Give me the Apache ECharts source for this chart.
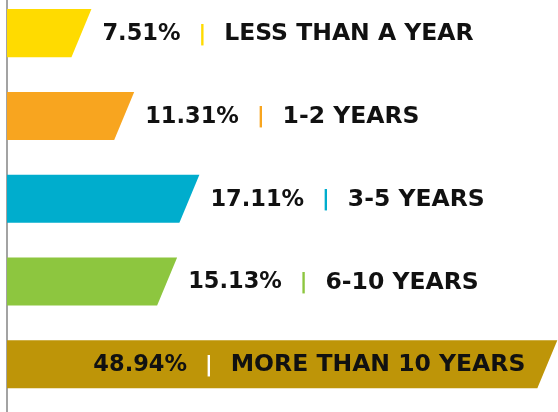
<!DOCTYPE html>
<html>
<head>
<meta charset="utf-8">
<script src="https://cdn.jsdelivr.net/npm/echarts@6/dist/echarts.min.js"></script>
<style>
  html, body { margin: 0; padding: 0; background: #fff; }
  #chart { width: 558px; height: 412px; }
</style>
</head>
<body>
<div id="chart"></div>
<script>
  var categories = ['LESS THAN A YEAR', '1-2 YEARS', '3-5 YEARS', '6-10 YEARS', 'MORE THAN 10 YEARS'];
  var values = [7.51, 11.31, 17.11, 15.13, 48.94];
  var palette = ['#ffdb00', '#f8a51f', '#00adcd', '#8dc63f', '#be9508'];

  var FONT = '"DejaVu Sans", sans-serif';
  var SLANT = 20;

  function renderItem(params, api) {
    var idx = api.value(0);
    var val = api.value(1);
    var start = api.coord([0, idx]);
    var end = api.coord([val, idx]);
    var h = api.size([0, 1])[1] * 0.58;
    var top = end[1] - h / 2;
    var bot = end[1] + h / 2;
    var color = palette[idx];
    var inside = val > 40;

    var text = '{p|' + val.toFixed(2) + '%}{s||}{n|' + categories[idx] + '}';
    var rich = {
      p: { fill: '#111', fontSize: 22.5, fontWeight: 'bold', fontFamily: FONT, lineHeight: 24 },
      s: { fill: inside ? '#ffffff' : color, fontSize: 21, fontWeight: 'bold', fontFamily: FONT,
           lineHeight: 24, padding: [0, 18, 0, 18] },
      n: { fill: '#111', fontSize: 23.5, fontWeight: 'bold', fontFamily: FONT, lineHeight: 24 }
    };

    return {
      type: 'group',
      children: [
        {
          type: 'polygon',
          shape: { points: [[start[0], top], [end[0], top], [end[0] - SLANT, bot], [start[0], bot]] },
          style: { fill: color }
        },
        {
          type: 'text',
          x: inside ? end[0] - SLANT - 12 : end[0] + 11,
          y: end[1] + 1,
          style: {
            text: text,
            rich: rich,
            align: inside ? 'right' : 'left',
            verticalAlign: 'middle'
          }
        }
      ]
    };
  }

  var chart = echarts.init(document.getElementById('chart'));
  chart.setOption({
    animation: false,
    grid: { left: 7, right: 0, top: 0, bottom: 0 },
    xAxis: {
      type: 'value',
      min: 0,
      max: 49,
      show: false
    },
    yAxis: {
      type: 'value',
      inverse: true,
      min: -0.4,
      max: 4.576,
      offset: 2,
      splitLine: { show: false },
      axisLine: { show: true, lineStyle: { color: '#a3a3a3', width: 2 } },
      axisTick: { show: false },
      axisLabel: { show: false }
    },
    series: [{
      type: 'custom',
      renderItem: renderItem,
      encode: { x: 1, y: 0 },
      data: values.map(function (v, i) { return [i, v]; })
    }]
  });
</script>
</body>
</html>
